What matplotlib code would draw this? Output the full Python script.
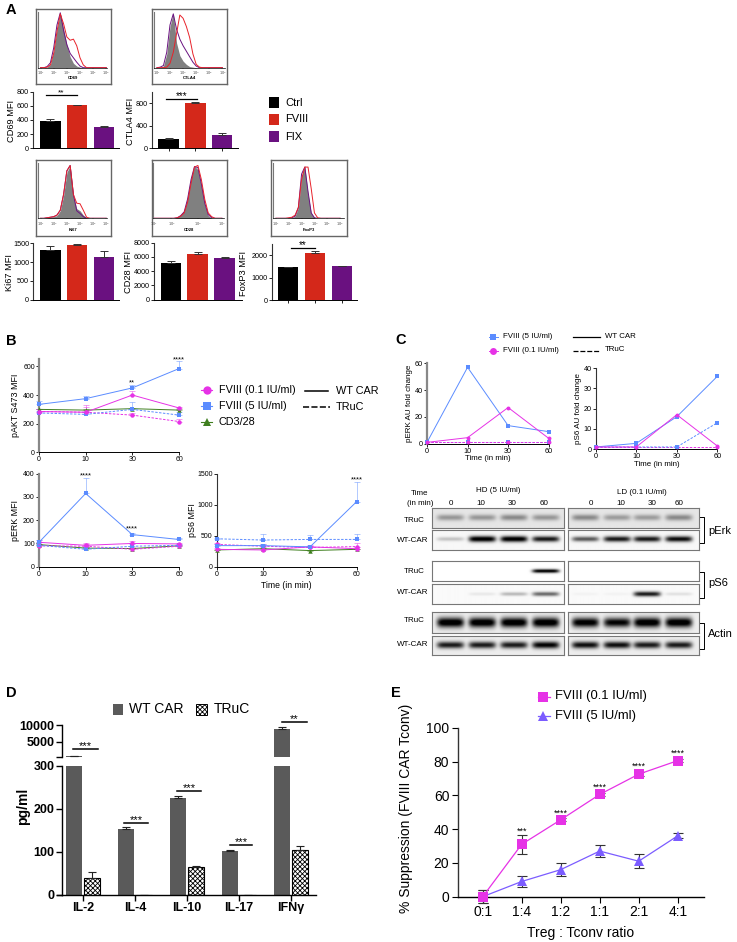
import matplotlib
matplotlib.use("Agg")
import matplotlib.pyplot as plt
import numpy as np

plt.rcParams["font.family"] = ["Liberation Sans", "DejaVu Sans"]
plt.rcParams["hatch.linewidth"] = 0.6

W, H = 737, 942
BLACK, RED, PURPLE = "#000000", "#D4281A", "#6A1180"
BLUE, MAGENTA, GREEN = "#5B8CFF", "#E632E6", "#3F7F1F"
GREY_BAR = "#5A5A5A"

# ----------
# Data
# ----------
groups = ["Ctrl", "FVIII", "FIX"]
cd69_mfi, cd69_err = [385, 605, 305], [30, 5, 8]
ctla4_mfi, ctla4_err = [170, 795, 235], [5, 15, 30]
ki67_mfi, ki67_err = [1335, 1465, 1145], [80, 10, 140]
cd28_mfi, cd28_err = [5150, 6480, 5850], [250, 200, 80]
foxp3_mfi, foxp3_err = [1470, 2090, 1510], [20, 90, 30]

# histogram curves, % of peak on a quarter decade grid
hist_x = [0, .25, .5, .75, 1, 1.25, 1.5, 1.75, 2, 2.25, 2.5, 2.75, 3, 3.25, 3.5, 3.75, 4, 4.25, 4.5, 4.75, 5]
cd69_grey = [0, 0, 1, 6, 30, 70, 100, 70, 42, 20, 8, 3, 1, 0, 0, 0, 0, 0, 0, 0, 0]
cd69_purple = [0, 0, 2, 9, 36, 78, 100, 68, 42, 26, 18, 10, 3, 0, 0, 0, 0, 0, 0, 0, 0]
cd69_red = [0, 0, 1, 5, 26, 66, 98, 80, 56, 50, 52, 40, 18, 5, 0, 0, 0, 0, 0, 0, 0]
ctla4_grey = [0, 1, 3, 25, 75, 100, 45, 22, 12, 6, 2, 1, 0, 0, 0, 0, 0, 0, 0, 0, 0]
ctla4_purple = [0, 1, 4, 28, 78, 98, 70, 52, 40, 30, 20, 10, 3, 0, 0, 0, 0, 0, 0, 0, 0]
ctla4_red = [0, 0, 0, 1, 8, 28, 62, 96, 90, 75, 55, 25, 6, 1, 0, 0, 0, 0, 0, 0, 0]
ki67_grey = [0, 0, 1, 2, 3, 5, 14, 42, 85, 98, 42, 18, 14, 6, 1, 0, 0, 0, 0, 0, 0]
ki67_purple = [0, 0, 1, 2, 3, 6, 15, 44, 88, 98, 44, 14, 9, 3, 0, 0, 0, 0, 0, 0, 0]
ki67_red = [0, 0, 1, 2, 3, 6, 15, 44, 88, 98, 44, 28, 27, 15, 2, 0, 0, 0, 0, 0, 0]
cd28_grey = [0, 0, 0, 0, 0, 0, 0, 2, 6, 14, 40, 75, 97, 90, 60, 25, 5, 0, 0, 0, 0]
cd28_purple = [0, 0, 0, 0, 0, 0, 0, 1, 5, 12, 36, 72, 96, 94, 64, 28, 7, 1, 0, 0, 0]
cd28_red = [0, 0, 0, 0, 0, 0, 0, 1, 4, 10, 30, 65, 95, 98, 72, 35, 10, 3, 0, 0, 0]
foxp3_grey = [0, 0, 0, 0, 0, 1, 4, 20, 78, 98, 45, 10, 1, 0, 0, 0, 0, 0, 0, 0, 0]
foxp3_purple = [0, 0, 0, 0, 0, 1, 4, 20, 82, 95, 50, 10, 1, 0, 0, 0, 0, 0, 0, 0, 0]
foxp3_red = [0, 0, 0, 0, 1, 2, 6, 20, 72, 95, 95, 55, 10, 1, 0, 0, 0, 0, 0, 0, 0]

time_labels = ["0", "10", "30", "60"]
akt_hd_wt, akt_hd_wt_err = [335, 375, 450, 585], [25, 15, 20, 50]
akt_ld_wt, akt_ld_wt_err = [285, 280, 400, 310], [15, 50, 30, 10]
akt_hd_tr, akt_hd_tr_err = [275, 265, 300, 260], [15, 15, 50, 25]
akt_ld_tr, akt_ld_tr_err = [285, 280, 260, 215], [15, 40, 15, 15]
akt_cd_wt, akt_cd_wt_err = [300, 295, 305, 295], [5, 5, 5, 5]

erk_hd_wt, erk_hd_wt_err = [105, 315, 138, 117], [8, 65, 5, 5]
erk_ld_wt, erk_ld_wt_err = [105, 92, 100, 98], [8, 10, 10, 5]
erk_hd_tr, erk_hd_tr_err = [92, 75, 88, 92], [5, 8, 8, 5]
erk_ld_tr, erk_ld_tr_err = [90, 88, 75, 88], [5, 10, 8, 5]
erk_cd_wt, erk_cd_wt_err = [95, 80, 78, 90], [3, 3, 3, 3]

s6_hd_wt, s6_hd_wt_err = [340, 340, 320, 1050], [20, 20, 20, 310]
s6_ld_wt, s6_ld_wt_err = [280, 270, 320, 290], [20, 40, 30, 30]
s6_hd_tr, s6_hd_tr_err = [450, 430, 440, 440], [20, 90, 65, 85]
s6_ld_tr, s6_ld_tr_err = [360, 330, 310, 325], [20, 30, 30, 60]
s6_cd_wt, s6_cd_wt_err = [270, 290, 260, 280], [5, 5, 5, 5]

c_erk_hd_wt = [1, 57, 13.5, 9]
c_erk_ld_wt = [1, 4.5, 27, 4]
c_erk_hd_tr = [1, 1, 1, 1]
c_erk_ld_tr = [1, 1, 1, 1]
c_s6_hd_wt = [1, 2.8, 16, 36]
c_s6_ld_wt = [1, 1, 17, 1.5]
c_s6_hd_tr = [1, 1, 1, 13]
c_s6_ld_tr = [1, 1, 1, 1]

# blot band strength, lane by lane
blot_erk_tr_hd, blot_erk_tr_ld = [.3, .3, .35, .3], [.35, .28, .28, .35]
blot_erk_wt_hd, blot_erk_wt_ld = [.2, 1, 1, .85], [.6, .85, .85, .9]
blot_s6_tr_hd, blot_s6_tr_ld = [0, 0, 0, 1], [0, 0, 0, 0]
blot_s6_wt_hd, blot_s6_wt_ld = [0, .07, .25, .55], [.03, .03, .85, .1]
blot_act_tr_hd, blot_act_tr_ld = [1, 1, 1, 1], [.95, .9, 1, 1]
blot_act_wt_hd, blot_act_wt_ld = [.8, .8, .8, .9], [.85, .85, .8, .8]

cytokines = ["IL-2", "IL-4", "IL-10", "IL-17", "IFNγ"]
wt_car, wt_car_err = [800, 153, 225, 102, 8800], [0, 4, 6, 2, 700]
truc, truc_err = [40, 0, 64, 0, 104], [14, 0, 4, 0, 10]

ratios = ["0:1", "1:4", "1:2", "1:1", "2:1", "4:1"]
supp_ld, supp_ld_err = [0, 31, 45.5, 60.5, 72.5, 80.5], [4, 5.5, 1, 1, 1, 1]
supp_hd, supp_hd_err = [0, 9, 16, 27, 21, 36], [4, 3.5, 4, 3.5, 4, 1.5]


fig = plt.figure(figsize=(W / 100, H / 100), dpi=100, facecolor="white")


def px_axes(x0, y0, x1, y1):
    # axes placed with pixel coordinates of the picture, y going down
    return fig.add_axes([x0 / W, 1 - y1 / H, (x1 - x0) / W, (y1 - y0) / H])


# overlay in pixel coordinates for labels and brackets
ov = fig.add_axes([0, 0, 1, 1], zorder=10)
ov.set_xlim(0, W)
ov.set_ylim(H, 0)
ov.axis("off")
ov.patch.set_alpha(0)


def label(x, y, s, size=6, ha="center", va="center", **kw):
    ov.text(x, y, s, fontsize=size, ha=ha, va=va, **kw)


def sig(x0, x1, y, stars, size=7, lw=0.9):
    ov.plot([x0, x1], [y, y], color="black", lw=lw)
    label((x0 + x1) / 2, y - 2.5, stars, size=size)


def style(ax, size=5, left="#333333", lw=0.8):
    ax.spines[["top", "right"]].set_visible(False)
    ax.spines["left"].set_color(left)
    ax.spines["left"].set_linewidth(lw)
    ax.spines["bottom"].set_linewidth(0.7)
    ax.tick_params(labelsize=size, length=2, width=0.6, pad=1)
    ax.patch.set_alpha(0)


# ----------
# A
# ----------
def hist_panel(box, axes_box, lim, ticks, grey, purple, red, name):
    bg = px_axes(*box)
    bg.set_xticks([])
    bg.set_yticks([])
    for s in bg.spines.values():
        s.set_color("#666666")
        s.set_linewidth(1)
    ax = px_axes(*axes_box)
    ax.fill_between(hist_x, grey, color="#808080", lw=0)
    ax.plot(hist_x, purple, color=PURPLE, lw=0.7)
    ax.plot(hist_x, red, color="#E8222A", lw=0.7)
    ax.set_xlim(*lim)
    ax.set_ylim(0, 102)
    ax.set_yticks([])
    ax.set_xticks(ticks)
    ax.set_xticklabels(["$10^{%d}$" % (i + 1) for i in range(len(ticks))], fontsize=2.4)
    ax.tick_params(axis="x", length=1, width=0.3, pad=0.3, colors="#444444")
    ax.spines[["top", "right"]].set_visible(False)
    ax.spines["left"].set_color("#777777")
    ax.spines["bottom"].set_linewidth(0.5)
    ax.patch.set_alpha(0)
    label((box[0] + box[2]) / 2, box[3] - 6, name, size=3, fontweight="bold")


hist_panel((36, 9, 111, 84), (38.3, 11.7, 107, 67.7), (-0.17, 5.05), range(6), cd69_grey, cd69_purple, cd69_red, "CD69")
hist_panel((152, 9, 227, 84), (154.3, 11.7, 225, 67.7), (-0.2, 5.2), range(6), ctla4_grey, ctla4_purple, ctla4_red, "CTLA4")
hist_panel((36, 160, 111, 236), (38.3, 163.3, 107, 218.3), (-0.17, 5.05), range(6), ki67_grey, ki67_purple, ki67_red, "Ki67")
hist_panel((152, 160, 227, 236), (153.3, 163.3, 224, 218.3), (0, 5.15), [0, 1.32, 3.28, 5], cd28_grey, cd28_purple, cd28_red, "CD28")
hist_panel((271, 160, 347, 236), (273.3, 163.3, 344, 218.3), (-0.2, 5.3), range(6), foxp3_grey, foxp3_purple, foxp3_red, "FoxP3")


def bar_panel(x0, x1, y0, y1, xlim, ylim, ticks, vals, errs, name, xlab, tickmarks=False, left="#333333"):
    ax = px_axes(x0, y0, x1, y1)
    xs = np.arange(3)
    ax.bar(xs, vals, width=0.77, color=[BLACK, RED, PURPLE])
    for i in range(3):
        ax.errorbar(xs[i], vals[i], yerr=[[0], [errs[i]]], ecolor="#333333",
                    capsize=3, elinewidth=0.7, capthick=0.7, fmt="none")
    ax.set_xlim(*xlim)
    ax.set_ylim(*ylim)
    ax.set_yticks(ticks)
    ax.set_xticks(xs if tickmarks else [])
    ax.set_xticklabels([""] * 3 if tickmarks else [])
    style(ax, size=5.2, left=left)
    label(xlab, (y0 + y1) / 2 + 1, name, size=6.7, rotation=90)


# x limits worked out from bar centres and spacing in pixels
bar_panel(33.3, 119, 91.7, 148.3, (-0.63, 2.56), (0, 800), [0, 200, 400, 600, 800], cd69_mfi, cd69_err, "CD69 MFI", 12)
bar_panel(152, 238, 92.3, 148.3, (-0.62, 2.6), (0, 990), [0, 400, 800], ctla4_mfi, ctla4_err, "CTLA4 MFI", 131, True)
bar_panel(33.3, 119, 243.3, 299.7, (-0.63, 2.56), (0, 1500), [0, 500, 1000, 1500], ki67_mfi, ki67_err, "Ki67 MFI", 9.5)
bar_panel(154, 241.7, 242.7, 299.7, (-0.63, 2.63), (0, 8000), [0, 2000, 4000, 6000, 8000], cd28_mfi, cd28_err, "CD28 MFI", 129)
bar_panel(271.7, 356.7, 244, 300.3, (-0.61, 2.55), (0, 2500), [0, 1000, 2000], foxp3_mfi, foxp3_err, "FoxP3 MFI", 244, True)

sig(45.7, 77.3, 95, "**", size=6)
sig(165.7, 196.7, 99, "***", size=7)
sig(290.7, 315, 247.7, "**", size=7)

for yc, name, col in zip([102.5, 119.5, 136.5], groups, [BLACK, RED, PURPLE]):
    ov.add_patch(plt.Rectangle((269, yc - 5.2), 10.4, 10.4, color=col, lw=0))
    label(285.5, yc, name, size=8, ha="left")


# ----------
# B and C line panels
# ----------
def time_panel(x0, x1, y0, y1, ylim, ticks, series, name, name_x, left="#888888", lw=1.6, size=5, name_size=6.4, ms=3.2):
    ax = px_axes(x0, y0, x1, y1)
    for vals, errs, col, mark, ls in series:
        if errs is not None:
            ax.errorbar(range(4), vals, yerr=[[0] * 4, errs], fmt="none", ecolor=col, alpha=0.55,
                        elinewidth=0.6, capsize=2, capthick=0.6, clip_on=False)
        ax.plot(range(4), vals, color=col, ls=ls, lw=0.7, marker=mark, ms=ms, mew=0, clip_on=False, zorder=3)
    ax.set_xlim(0, 3)
    ax.set_ylim(*ylim)
    ax.set_yticks(ticks)
    ax.set_xticks(range(4))
    ax.set_xticklabels(time_labels)
    style(ax, size=size, left=left, lw=lw)
    label(name_x, (y0 + y1) / 2, name, size=name_size, rotation=90)
    return ax


def b_series(hd_wt, hd_wt_e, ld_wt, ld_wt_e, hd_tr, hd_tr_e, ld_tr, ld_tr_e, cd, cd_e):
    return [
        (cd, cd_e, GREEN, "^", "-"),
        (ld_tr, ld_tr_e, MAGENTA, "o", (0, (2.5, 1.5))),
        (hd_tr, hd_tr_e, BLUE, "s", (0, (2.5, 1.5))),
        (ld_wt, ld_wt_e, MAGENTA, "o", "-"),
        (hd_wt, hd_wt_e, BLUE, "s", "-"),
    ]


time_panel(39, 179, 359.3, 452.3, (0, 650), [0, 200, 400, 600],
           b_series(akt_hd_wt, akt_hd_wt_err, akt_ld_wt, akt_ld_wt_err, akt_hd_tr, akt_hd_tr_err, akt_ld_tr, akt_ld_tr_err, akt_cd_wt, akt_cd_wt_err),
           "pAKT S473 MFI", 15.5)
time_panel(39, 179, 473.7, 566.7, (0, 400), [0, 100, 200, 300, 400],
           b_series(erk_hd_wt, erk_hd_wt_err, erk_ld_wt, erk_ld_wt_err, erk_hd_tr, erk_hd_tr_err, erk_ld_tr, erk_ld_tr_err, erk_cd_wt, erk_cd_wt_err),
           "pERK MFI", 15.5)
time_panel(216.7, 356.7, 473.7, 566.7, (0, 1500), [0, 500, 1000, 1500],
           b_series(s6_hd_wt, s6_hd_wt_err, s6_ld_wt, s6_ld_wt_err, s6_hd_tr, s6_hd_tr_err, s6_ld_tr, s6_ld_tr_err, s6_cd_wt, s6_cd_wt_err),
           "pS6 MFI", 192.5, left="#333333", lw=0.8)
label(286.7, 585, "Time (in min)", size=6.2)

for x, y, s in [(132.3, 383, "**"), (179, 359.5, "****"), (85.7, 476, "****"), (132.3, 529, "****"), (356.7, 480, "****")]:
    label(x, y, s, size=5.5)

for y, col, mark, name in [(390, MAGENTA, "o", "FVIII (0.1 IU/ml)"), (406, BLUE, "s", "FVIII (5 IU/ml)"), (421.7, GREEN, "^", "CD3/28")]:
    ov.plot([201.5, 212], [y, y], color=col, lw=0.8, marker=None)
    ov.plot([206.7], [y], color=col, marker=mark, ms=6, mew=0)
    label(219, y, name, size=7.8, ha="left")
ov.plot([305, 328], [390.7, 390.7], color="black", lw=1.1)
ov.plot([303.5, 330], [406.7, 406.7], color="black", lw=1.1, ls=(0, (4, 1.5)))
label(335.7, 390.5, "WT CAR", size=7.8, ha="left")
label(335.7, 406.5, "TRuC", size=7.8, ha="left")

time_panel(427, 548.7, 363.3, 443.7, (0, 60), [0, 20, 40, 60],
           [(c_erk_hd_tr, None, BLUE, "s", (0, (2.5, 1.5))), (c_erk_ld_tr, None, MAGENTA, "o", (0, (2.5, 1.5))),
            (c_erk_hd_wt, None, BLUE, "s", "-"), (c_erk_ld_wt, None, MAGENTA, "o", "-")],
           "pERK AU fold change", 409.5, size=5.2, name_size=5.8, ms=2.8)
time_panel(595.7, 717.3, 368.3, 449, (0, 40), [0, 10, 20, 30, 40],
           [(c_s6_ld_tr, None, MAGENTA, "o", (0, (2.5, 1.5))), (c_s6_hd_tr, None, BLUE, "s", (0, (2.5, 1.5))),
            (c_s6_hd_wt, None, BLUE, "s", "-"), (c_s6_ld_wt, None, MAGENTA, "o", "-")],
           "pS6 AU fold change", 578.5, left="#333333", lw=0.8, size=5.2, name_size=5.8, ms=2.8)
label(488, 459, "Time (in min)", size=5.7)
label(656.7, 465, "Time (in min)", size=5.7)

for y, col, mark, name in [(336.7, BLUE, "s", "FVIII (5 IU/ml)"), (350.7, MAGENTA, "o", "FVIII (0.1 IU/ml)")]:
    ov.plot([489, 498], [y, y], color=col, lw=0.7)
    ov.plot([493.3], [y], color=col, marker=mark, ms=5, mew=0)
    label(502.7, y, name, size=5.7, ha="left")
ov.plot([573, 600], [336.7, 336.7], color="black", lw=0.9)
ov.plot([573, 600], [350.7, 350.7], color="black", lw=0.9, ls=(0, (4, 1.5)))
label(605, 336.7, "WT CAR", size=5.7, ha="left")
label(605, 349.5, "TRuC", size=5.7, ha="left")


# ----------
# C blots
# ----------
lanes_hd = [450, 481.7, 513.3, 545]
lanes_ld = [585, 616.7, 646.7, 678.3]


def blot(x0, x1, y0, y1, lanes, amps, thick, bg, dy=0.0):
    yy, xx = np.mgrid[y0:y1:80j, x0:x1:400j]
    img = np.full(xx.shape, bg, dtype=float)
    yc = (y0 + y1) / 2 + dy
    for c, a in zip(lanes, amps):
        shape = np.exp(-((xx - c) / 13.5) ** 6) * np.exp(-((yy - yc) / (thick * (0.6 + 0.4 * a))) ** 2)
        img -= a * 1.05 * shape
    ax = px_axes(x0, y0, x1, y1)
    ax.imshow(np.clip(img, 0, 1), cmap="gray", vmin=0, vmax=1, extent=(x0, x1, y1, y0), aspect="auto",
              interpolation="bilinear")
    ax.set_xticks([])
    ax.set_yticks([])
    for s in ax.spines.values():
        s.set_color("#777777")
        s.set_linewidth(0.8)


rows = [
    (508.3, 528.3, blot_erk_tr_hd, blot_erk_tr_ld, 4.2, 0.90, -0.5),
    (530.3, 550.3, blot_erk_wt_hd, blot_erk_wt_ld, 3.0, 0.97, -1),
    (561, 581, blot_s6_tr_hd, blot_s6_tr_ld, 1.9, 1.0, 0),
    (584.3, 604, blot_s6_wt_hd, blot_s6_wt_ld, 2.6, 0.98, 0),
    (612.3, 633.3, blot_act_tr_hd, blot_act_tr_ld, 5.0, 0.93, 0),
    (635.7, 655.3, blot_act_wt_hd, blot_act_wt_ld, 3.6, 0.93, 0),
]
for y0, y1, hd, ld, thick, bg, dy in rows:
    blot(431.7, 564, y0, y1, lanes_hd, hd, thick, bg, dy)
    blot(567.7, 699.3, y0, y1, lanes_ld, ld, thick, bg, dy)

label(420, 493.5, "Time", size=5.8)
label(420, 503.5, "(in min)", size=5.8)
label(498.3, 491, "HD (5 IU/ml)", size=5.8)
label(641.7, 492, "LD (0.1 IU/ml)", size=5.8)
for x, s in zip([450.7, 480.7, 512.3, 544.3], time_labels):
    label(x, 503.5, s, size=5.8)
for x, s in zip([590.7, 620.7, 651.7, 679.3], time_labels):
    label(x, 503.5, s, size=5.8)
for x, y, s in [(414.3, 520, "TRuC"), (412.7, 541, "WT-CAR"), (414.3, 571.7, "TRuC"),
                (412.7, 593, "WT-CAR"), (414.3, 620, "TRuC"), (412.7, 644.3, "WT-CAR")]:
    label(x, y, s, size=5.8)
for y0, y1, yl, s in [(516.7, 542.7, 530.7, "pErk"), (571.7, 598.3, 583.3, "pS6"), (622.7, 649.3, 634, "Actin")]:
    ov.plot([700, 704.3, 704.3, 700], [y0, y0, y1, y1], color="black", lw=0.7)
    label(708, yl, s, size=8, ha="left")


# ----------
# D
# ----------
tick_px = 52.0
xlim_d = ((62 - 83) / tick_px, (315.7 - 83) / tick_px)
xs = np.arange(5)
low = px_axes(62, 766, 315.7, 894.7)
top = px_axes(62, 725, 315.7, 757.3)
tall = [v > 330 for v in wt_car]
for ax in (low, top):
    ax.bar(xs - 0.175, wt_car, width=0.294, color=GREY_BAR, lw=0)
    ax.set_xlim(*xlim_d)
low.errorbar(xs - 0.175, wt_car, yerr=[[0] * 5, wt_car_err], fmt="none", ecolor="#222222", elinewidth=0.8, capsize=3.2, capthick=0.8)
top.errorbar(xs[tall] - 0.175, np.array(wt_car)[tall], yerr=[[0] * sum(tall), np.array(wt_car_err)[tall]], fmt="none",
             ecolor="#222222", elinewidth=0.8, capsize=3.2, capthick=0.8)
low.bar(xs + 0.175, truc, width=0.294, facecolor="white", edgecolor="black", hatch="xxxxxxx", lw=0.8)
low.errorbar(xs + 0.175, truc, yerr=[[0] * 5, truc_err], fmt="none", ecolor="#222222", elinewidth=0.8, capsize=3.2, capthick=0.8)
low.set_ylim(0, 300)
top.set_ylim(330, 10000)
low.set_yticks([0, 100, 200, 300])
top.set_yticks([330, 5000, 10000])
top.set_yticklabels(["", "5000", "10000"])
top.set_xticks([])
top.spines[["top", "right", "bottom"]].set_visible(False)
low.spines[["top", "right"]].set_visible(False)
low.set_xticks(xs)
low.set_xticklabels(cytokines)
for ax in (low, top):
    ax.patch.set_alpha(0)
    ax.spines["left"].set_linewidth(1)
    ax.tick_params(length=4, width=1, labelsize=9, pad=1.5)
    for t in ax.get_xticklabels() + ax.get_yticklabels():
        t.set_fontweight("bold")
low.spines["bottom"].set_linewidth(1)
ov.plot([56.7, 62], [894.7, 894.7], color="black", lw=1)
label(22.7, 806.7, "pg/ml", size=10, rotation=90, fontweight="bold")

sig(73.3, 98.3, 749, "***", size=8, lw=1.1)
sig(124.3, 148.3, 823, "***", size=8, lw=1.1)
sig(176.7, 201, 790.7, "***", size=8, lw=1.1)
sig(230, 251.7, 845, "***", size=8, lw=1.1)
sig(281.7, 306.7, 722, "**", size=8, lw=1.1)

ov.add_patch(plt.Rectangle((112.7, 704), 10.6, 11, color=GREY_BAR, lw=0))
label(129.3, 709.3, "WT CAR", size=10, ha="left")
ov.add_patch(plt.Rectangle((195.7, 704), 11.4, 11, facecolor="white", edgecolor="black", hatch="xxxxxxx", lw=0.7))
label(213.3, 709.3, "TRuC", size=10, ha="left")


# ----------
# E
# ----------
ax = px_axes(457.7, 727.7, 704.3, 896.7)
PURPLE_E = "#7B5CFF"
for vals, errs, col, mark in [(supp_hd, supp_hd_err, PURPLE_E, "^"), (supp_ld, supp_ld_err, MAGENTA, "s")]:
    ax.errorbar(range(6), vals, yerr=errs, fmt="none", ecolor="#333333", elinewidth=0.8, capsize=3.5, capthick=0.8, clip_on=False)
    ax.plot(range(6), vals, color=col, lw=0.9, marker=mark, ms=6.5, mew=0, clip_on=False, zorder=3)
ax.set_xlim((457.7 - 482.7) / 39, (704.3 - 482.7) / 39)
ax.set_ylim(0, 100)
ax.set_yticks(range(0, 101, 20))
ax.set_xticks(range(6))
ax.set_xticklabels(ratios)
style(ax, size=10, lw=1)
ax.spines["bottom"].set_linewidth(1)
ax.tick_params(length=4, width=0.8, pad=2)
label(406, 808, "% Suppression (FVIII CAR Tconv)", size=10, rotation=90)
label(580.7, 932.7, "Treg : Tconv ratio", size=10)
for x, y, s in [(521.7, 831, "***"), (561, 813, "****"), (600, 787, "****"), (639, 766, "****"), (677.7, 753, "****")]:
    label(x, y, s, size=6.5)

ov.plot([538, 550], [696.5, 696.5], color=MAGENTA, lw=0.9)
ov.plot([543.5], [696.5], color=MAGENTA, marker="s", ms=6.5, mew=0)
label(555, 696.5, "FVIII (0.1 IU/ml)", size=9.4, ha="left")
ov.plot([538, 550], [716, 716], color=PURPLE_E, lw=0.9)
ov.plot([543.5], [716], color=PURPLE_E, marker="^", ms=6.5, mew=0)
label(555, 716, "FVIII (5 IU/ml)", size=9.4, ha="left")

# panel letters
for x, y, s in [(11, 10, "A"), (11, 341, "B"), (401, 340, "C"), (11, 693, "D"), (396, 693, "E")]:
    label(x, y, s, size=10.5, fontweight="bold")

plt.savefig("out.png", dpi=100)
plt.close()
